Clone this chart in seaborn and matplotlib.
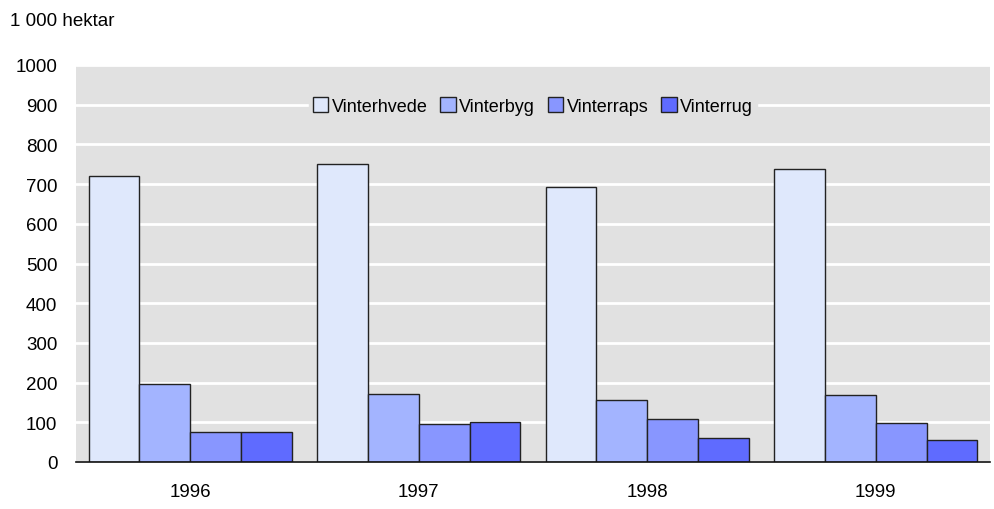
import matplotlib
matplotlib.use("Agg")
import matplotlib.pyplot as plt
import seaborn as sns
import pandas as pd

years = ["1996", "1997", "1998", "1999"]
series = ["Vinterhvede", "Vinterbyg", "Vinterraps", "Vinterrug"]
vinterhvede = [721, 750, 693, 737]
vinterbyg = [196, 171, 155, 168]
vinterraps = [76, 96, 109, 97]
vinterrug = [76, 102, 61, 55]
colors = ["#DFE8FC", "#A3B4FF", "#8896FF", "#5F6BFF"]

rows = []
for name, vals in zip(series, [vinterhvede, vinterbyg, vinterraps, vinterrug]):
    for y, v in zip(years, vals):
        rows.append({"year": y, "series": name, "value": v})
df = pd.DataFrame(rows)

sns.set_theme(style="white")
plt.rcParams["font.family"] = ["Liberation Sans Narrow", "Liberation Sans", "DejaVu Sans"]

fig = plt.figure(figsize=(9.94, 5.10), dpi=100)
ax = fig.add_axes([76/994, 1 - 463/510, 914/994, 397/510])
ax.set_facecolor("#E1E1E1")

sns.barplot(data=df, x="year", y="value", hue="series", order=years,
            hue_order=series, palette=colors, width=0.89,
            edgecolor="#222222", linewidth=1.0, saturation=1, ax=ax, zorder=3)

ax.set_ylim(0, 1000)
ax.set_xlim(-0.5, 3.5)
ax.set_yticks(range(0, 1001, 100))
ax.yaxis.grid(True, color="white", linewidth=2, zorder=0)
ax.set_axisbelow(True)
for s in ["top", "right", "left"]:
    ax.spines[s].set_visible(False)
ax.spines["bottom"].set_color("#111111")
ax.spines["bottom"].set_linewidth(1.2)
ax.spines["bottom"].set_zorder(5)
ax.tick_params(axis="y", length=0, labelsize=13.5, colors="#000000", pad=13.5)
ax.tick_params(axis="x", length=0, labelsize=13.5, colors="#000000", pad=15)
ax.set_xlabel("")
ax.set_ylabel("")

leg = ax.legend(loc="upper center", bbox_to_anchor=(0.5, 0.95), ncol=4,
                frameon=True, fontsize=13, handlelength=0.85, handleheight=0.85,
                handletextpad=0.2, columnspacing=0.7, borderpad=0.2)
leg.get_frame().set_facecolor("#E1E1E1")
leg.get_frame().set_edgecolor("#E1E1E1")
leg.get_frame().set_alpha(1)
for h in leg.legend_handles:
    h.set_edgecolor("#222222")
    h.set_linewidth(1.0)
for t in leg.get_texts():
    t.set_color("#000000")
leg.set_zorder(10)

fig.text(10/994, 1 - 22/510, "1 000 hektar", fontsize=13.5, color="#000000", va="center", ha="left")

fig.savefig("out.png", dpi=100)
